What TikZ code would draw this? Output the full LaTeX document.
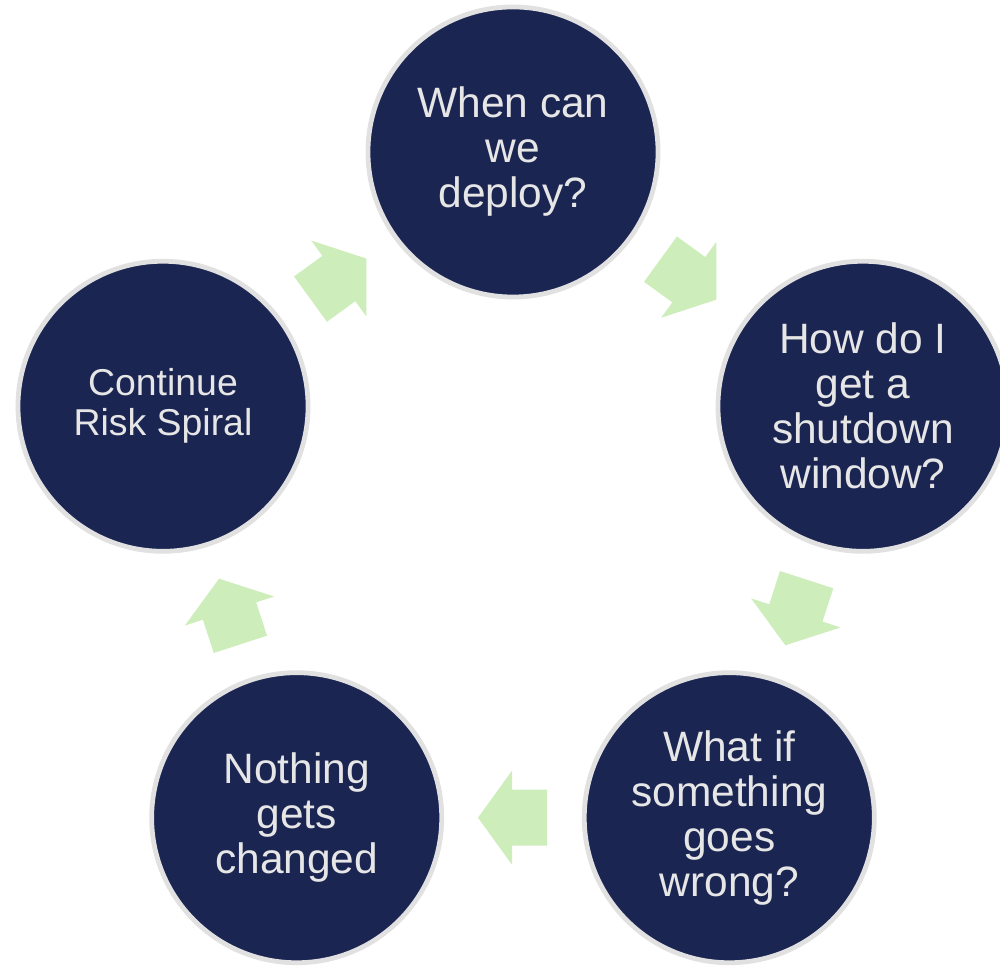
\documentclass[tikz,border=0pt]{standalone}
\usepackage{fontspec}
\setmainfont{Liberation Sans}
\usetikzlibrary{calc}

\definecolor{spiralnavy}{HTML}{1B2552}
\definecolor{spiralring}{HTML}{E1E1E1}
\definecolor{spiralgreen}{HTML}{CDEDBB}
\definecolor{spiraltext}{HTML}{E6E6E6}

\begin{document}
\begin{tikzpicture}[x=0.025cm,y=0.025cm,
  riskstage/.style={circle, fill=spiralnavy, draw=spiralring,
    line width=3.4pt, minimum size=7.25cm, inner sep=0pt,
    align=center, text=spiraltext},
  big/.style={font=\fontsize{30.2}{32}\selectfont},
  small/.style={font=\fontsize{26.6}{28.5}\selectfont}]

% ------------------------------------------------------------------
% Page is 1000 by 974 units; the five stages sit on a ring of
% radius 368 around the hub, starting at the top and going clockwise.
% ------------------------------------------------------------------
\useasboundingbox (0,0) rectangle (1000,974);
\coordinate (hub) at (513,454);

% Block arrow between two stages: \spiralarrow{from}{to}{heading}
\newcommand{\spiralarrow}[3]{%
  \fill[spiralgreen, shift={($(#1)!0.5!(#2)$)}, rotate=#3]
    (-34,-28) -- (1,-28) -- (1,-47) -- (35,0) -- (1,47) -- (1,28)
    -- (-34,28) -- cycle;
}

% Stages
\node[riskstage, big] (deploy) at ($(hub)+(90:368)$) {When can\\we\\deploy?};
\node[riskstage, big] (window) at ($(hub)+(18:368)$) {How do I\\get a\\shutdown\\window?};
\node[riskstage, big] (wrong) at ($(hub)+(-54:368)$) {What if\\something\\goes\\wrong?};
\node[riskstage, big] (nothing) at ($(hub)+(-126:368)$) {Nothing\\gets\\changed};
\node[riskstage, small] (spiral) at ($(hub)+(162:368)$) {Continue\\Risk Spiral};

% Arrows halfway between neighbours, pointing clockwise
\foreach \a/\b/\h in {deploy/window/-36, window/wrong/-108,
    wrong/nothing/180, nothing/spiral/108, spiral/deploy/36}{
  \spiralarrow{\a}{\b}{\h}
}

\end{tikzpicture}
\end{document}
